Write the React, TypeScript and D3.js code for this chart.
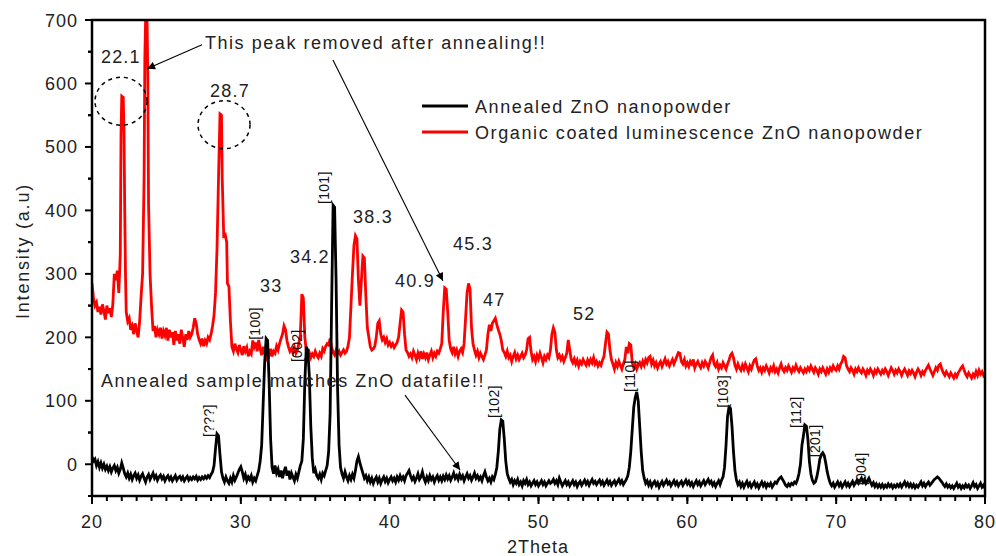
import React from "react";
import * as d3 from "d3";

// ---------- DATA ----------
const xTicks = [20, 30, 40, 50, 60, 70, 80];
const yTicks = [0, 100, 200, 300, 400, 500, 600, 700];

const seriesNames = ["Annealed ZnO nanopowder", "Organic coated luminescence ZnO nanopowder"];
const seriesColors = ["#000000", "#ff0000"];

// Organic coated luminescence ZnO nanopowder: [2Theta, intensity]
const organicCoated: [number, number][] = [
  [20.0,285],[20.1,262],[20.2,250],[20.3,255],[20.4,240],[20.5,248],[20.6,236],[20.7,252],[20.8,242],[20.9,228],
  [21.0,250],[21.1,238],[21.2,246],[21.3,232],[21.4,252],[21.5,300],[21.6,290],[21.7,305],[21.8,270],[21.9,330],
  [21.95,520],[22.0,580],[22.1,578],[22.15,525],[22.2,400],[22.25,300],[22.3,240],[22.4,225],[22.5,230],[22.6,212],
  [22.7,218],[22.8,205],[22.9,222],[23.0,210],[23.1,200],[23.2,225],[23.3,265],[23.4,300],[23.5,450],[23.55,640],
  [23.6,700],[23.7,700],[23.75,610],[23.8,410],[23.9,300],[24.0,250],[24.1,210],[24.2,218],[24.3,200],[24.4,212],
  [24.5,205],[24.6,215],[24.7,198],[24.8,210],[24.9,203],[25.0,215],[25.1,195],[25.2,212],[25.3,200],[25.4,208],
  [25.5,188],[25.6,210],[25.7,195],[25.8,205],[25.9,190],[26.0,212],[26.1,198],[26.2,185],[26.3,205],[26.4,196],
  [26.5,210],[26.6,200],[26.7,205],[26.8,215],[26.9,230],[27.0,222],[27.1,205],[27.2,196],[27.3,190],[27.4,198],
  [27.5,186],[27.6,195],[27.7,190],[27.8,200],[27.9,196],[28.0,205],[28.1,218],[28.2,235],[28.3,270],[28.4,340],
  [28.5,450],[28.6,552],[28.7,550],[28.75,450],[28.85,360],[28.95,362],[29.05,350],[29.1,285],[29.2,280],[29.3,225],
  [29.4,185],[29.5,178],[29.6,190],[29.7,182],[29.8,176],[29.9,188],[30.0,180],[30.1,172],[30.2,186],[30.3,178],
  [30.4,184],[30.5,170],[30.6,178],[30.7,174],[30.8,195],[30.9,185],[31.0,192],[31.1,178],[31.2,196],[31.3,182],
  [31.4,172],[31.5,185],[31.6,175],[31.7,168],[31.8,178],[31.9,172],[32.0,182],[32.1,170],[32.2,178],[32.3,175],
  [32.4,186],[32.5,180],[32.6,190],[32.7,198],[32.8,205],[32.9,218],[33.0,212],[33.1,195],[33.2,185],[33.3,178],
  [33.4,182],[33.5,176],[33.6,184],[33.7,175],[33.8,180],[33.9,190],[34.0,205],[34.1,268],[34.2,262],[34.3,200],
  [34.4,178],[34.5,170],[34.6,176],[34.7,168],[34.8,174],[34.9,170],[35.0,178],[35.1,172],[35.2,168],[35.3,175],
  [35.4,170],[35.5,182],[35.6,178],[35.7,186],[35.8,190],[35.9,188],[36.0,198],[36.1,185],[36.2,176],[36.3,172],
  [36.4,180],[36.5,174],[36.6,178],[36.7,172],[36.8,176],[36.9,180],[37.0,175],[37.1,178],[37.2,186],[37.3,200],
  [37.4,250],[37.5,300],[37.6,345],[37.7,360],[37.8,355],[37.9,290],[38.0,250],[38.1,290],[38.2,328],[38.3,325],
  [38.4,265],[38.5,215],[38.6,200],[38.7,185],[38.8,180],[38.9,182],[39.0,186],[39.1,200],[39.2,222],[39.3,226],
  [39.4,205],[39.5,196],[39.6,200],[39.7,192],[39.8,198],[39.9,188],[40.0,192],[40.1,186],[40.2,190],[40.3,184],
  [40.4,188],[40.5,192],[40.6,200],[40.7,222],[40.8,243],[40.9,240],[41.0,205],[41.1,180],[41.2,176],[41.3,170],
  [41.4,174],[41.5,168],[41.6,178],[41.7,172],[41.8,165],[41.9,175],[42.0,168],[42.1,178],[42.2,166],[42.3,174],
  [42.4,168],[42.5,176],[42.6,165],[42.7,172],[42.8,178],[42.9,168],[43.0,175],[43.1,170],[43.2,178],[43.3,175],
  [43.4,182],[43.5,190],[43.6,240],[43.7,278],[43.8,276],[43.9,240],[44.0,195],[44.1,182],[44.2,176],[44.3,185],
  [44.4,174],[44.5,180],[44.6,170],[44.7,178],[44.8,182],[44.9,176],[45.0,190],[45.1,230],[45.2,270],[45.3,285],
  [45.4,276],[45.5,215],[45.6,190],[45.7,180],[45.8,172],[45.9,178],[46.0,168],[46.1,175],[46.2,170],[46.3,165],
  [46.4,172],[46.5,180],[46.6,205],[46.7,220],[46.8,210],[46.9,222],[47.0,226],[47.1,230],[47.2,220],[47.3,212],
  [47.4,205],[47.5,195],[47.6,180],[47.7,176],[47.8,170],[47.9,178],[48.0,168],[48.1,172],[48.2,162],[48.3,170],
  [48.4,176],[48.5,166],[48.6,172],[48.7,165],[48.8,170],[48.9,175],[49.0,168],[49.1,172],[49.2,180],[49.3,198],
  [49.4,200],[49.5,178],[49.6,165],[49.7,170],[49.8,162],[49.9,172],[50.0,166],[50.1,175],[50.2,168],[50.3,160],
  [50.4,170],[50.5,165],[50.6,172],[50.7,168],[50.8,180],[50.9,205],[51.0,215],[51.1,208],[51.2,180],[51.3,168],
  [51.4,172],[51.5,165],[51.6,170],[51.7,162],[51.8,168],[51.9,175],[52.0,196],[52.1,180],[52.2,165],[52.3,160],
  [52.4,166],[52.5,158],[52.6,164],[52.7,155],[52.8,162],[52.9,158],[53.0,165],[53.1,160],[53.2,156],[53.3,164],
  [53.4,158],[53.5,165],[53.6,160],[53.7,168],[53.8,158],[53.9,162],[54.0,155],[54.1,160],[54.2,156],[54.3,164],
  [54.4,170],[54.5,190],[54.6,208],[54.7,205],[54.8,180],[54.9,165],[55.0,158],[55.1,150],[55.2,160],[55.3,154],
  [55.4,162],[55.5,156],[55.6,150],[55.7,158],[55.8,165],[55.9,185],[56.0,175],[56.1,190],[56.2,188],[56.3,160],
  [56.4,152],[56.5,158],[56.6,150],[56.7,156],[56.8,160],[56.9,154],[57.0,162],[57.1,156],[57.2,165],[57.3,160],
  [57.4,168],[57.5,170],[57.6,158],[57.7,164],[57.8,155],[57.9,160],[58.0,152],[58.1,158],[58.2,162],[58.3,154],
  [58.4,160],[58.5,166],[58.6,158],[58.7,162],[58.8,155],[58.9,160],[59.0,165],[59.1,158],[59.2,164],[59.3,170],
  [59.4,176],[59.5,175],[59.6,162],[59.7,158],[59.8,165],[59.9,155],[60.0,160],[60.1,154],[60.2,162],[60.3,158],
  [60.4,165],[60.5,152],[60.6,158],[60.7,162],[60.8,156],[60.9,152],[61.0,160],[61.1,155],[61.2,162],[61.3,158],
  [61.4,152],[61.5,160],[61.6,168],[61.7,172],[61.8,158],[61.9,154],[62.0,160],[62.1,150],[62.2,156],[62.3,152],
  [62.4,160],[62.5,155],[62.6,150],[62.7,158],[62.8,164],[62.9,172],[63.0,175],[63.1,168],[63.2,156],[63.3,150],
  [63.4,158],[63.5,152],[63.6,148],[63.7,156],[63.8,150],[63.9,158],[64.0,152],[64.1,146],[64.2,155],[64.3,150],
  [64.4,158],[64.5,164],[64.6,166],[64.7,155],[64.8,148],[64.9,152],[65.0,145],[65.1,152],[65.2,148],[65.3,155],
  [65.4,150],[65.5,144],[65.6,152],[65.7,148],[65.8,155],[65.9,146],[66.0,150],[66.1,144],[66.2,152],[66.3,158],
  [66.4,150],[66.5,146],[66.6,152],[66.7,148],[66.8,155],[66.9,150],[67.0,145],[67.1,152],[67.2,148],[67.3,156],
  [67.4,150],[67.5,146],[67.6,152],[67.7,148],[67.8,144],[67.9,150],[68.0,146],[68.1,152],[68.2,148],[68.3,155],
  [68.4,150],[68.5,145],[68.6,152],[68.7,148],[68.8,142],[68.9,150],[69.0,146],[69.1,152],[69.2,147],[69.3,142],
  [69.4,150],[69.5,145],[69.6,152],[69.7,148],[69.8,155],[69.9,150],[70.0,148],[70.1,155],[70.2,150],[70.3,158],
  [70.4,162],[70.5,170],[70.6,168],[70.7,155],[70.8,150],[70.9,146],[71.0,152],[71.1,148],[71.2,142],[71.3,150],
  [71.4,146],[71.5,152],[71.6,147],[71.7,144],[71.8,150],[71.9,146],[72.0,140],[72.1,148],[72.2,144],[72.3,150],
  [72.4,146],[72.5,140],[72.6,148],[72.7,144],[72.8,150],[72.9,146],[73.0,142],[73.1,148],[73.2,144],[73.3,150],
  [73.4,146],[73.5,140],[73.6,146],[73.7,152],[73.8,148],[73.9,142],[74.0,148],[74.1,144],[74.2,150],[74.3,146],
  [74.4,140],[74.5,146],[74.6,150],[74.7,145],[74.8,140],[74.9,147],[75.0,143],[75.1,148],[75.2,144],[75.3,138],
  [75.4,145],[75.5,150],[75.6,146],[75.7,140],[75.8,146],[75.9,142],[76.0,148],[76.1,152],[76.2,156],[76.3,150],
  [76.4,145],[76.5,140],[76.6,146],[76.7,152],[76.8,148],[76.9,156],[77.0,158],[77.1,150],[77.2,144],[77.3,140],
  [77.4,146],[77.5,142],[77.6,138],[77.7,144],[77.8,140],[77.9,136],[78.0,142],[78.1,138],[78.2,144],[78.3,148],
  [78.4,152],[78.5,155],[78.6,148],[78.7,142],[78.8,138],[78.9,144],[79.0,140],[79.1,136],[79.2,142],[79.3,138],
  [79.4,146],[79.5,140],[79.6,148],[79.7,142],[79.8,146],[79.9,140],[80.0,144]
];

// Annealed ZnO nanopowder: [2Theta, intensity]
const annealed: [number, number][] = [
  [20.0,12],[20.1,5],[20.2,8],[20.3,-2],[20.4,4],[20.5,-5],[20.6,2],[20.7,-6],[20.8,0],[20.9,-8],
  [21.0,-3],[21.1,-10],[21.2,-4],[21.3,-12],[21.4,-6],[21.5,-2],[21.6,-10],[21.7,-5],[21.8,-14],[21.9,-8],
  [22.0,2],[22.1,-6],[22.2,-15],[22.3,-20],[22.4,-14],[22.5,-22],[22.6,-16],[22.7,-24],[22.8,-18],[22.9,-14],
  [23.0,-22],[23.1,-17],[23.2,-25],[23.3,-19],[23.4,-15],[23.5,-22],[23.6,-28],[23.7,-20],[23.8,-16],[23.9,-24],
  [24.0,-19],[24.1,-14],[24.2,-22],[24.3,-18],[24.4,-25],[24.5,-20],[24.6,-17],[24.7,-23],[24.8,-19],[24.9,-26],
  [25.0,-21],[25.1,-18],[25.2,-24],[25.3,-20],[25.4,-26],[25.5,-22],[25.6,-18],[25.7,-25],[25.8,-21],[25.9,-19],
  [26.0,-24],[26.1,-20],[26.2,-26],[26.3,-22],[26.4,-19],[26.5,-25],[26.6,-21],[26.7,-24],[26.8,-20],[26.9,-23],
  [27.0,-19],[27.1,-25],[27.2,-21],[27.3,-24],[27.4,-20],[27.5,-23],[27.6,-19],[27.7,-22],[27.8,-18],[27.9,-21],
  [28.0,-16],[28.1,-12],[28.2,-2],[28.3,25],[28.4,48],[28.5,45],[28.6,15],[28.7,-12],[28.8,-22],[28.9,-28],
  [29.0,-20],[29.1,-26],[29.2,-30],[29.3,-22],[29.4,-28],[29.5,-18],[29.6,-25],[29.7,-20],[29.8,-14],[29.9,-8],
  [30.0,-4],[30.1,-12],[30.2,-22],[30.3,-16],[30.4,-26],[30.5,-20],[30.6,-24],[30.7,-18],[30.8,-28],[30.9,-22],
  [31.0,-26],[31.1,-18],[31.2,-10],[31.3,5],[31.4,30],[31.5,95],[31.6,160],[31.7,198],[31.8,195],[31.9,130],
  [32.0,40],[32.1,-5],[32.2,-15],[32.3,-2],[32.4,-14],[32.5,-8],[32.6,-20],[32.7,-10],[32.8,-22],[32.9,-12],
  [33.0,-4],[33.1,-18],[33.2,-10],[33.3,-24],[33.4,-14],[33.5,-20],[33.6,-26],[33.7,-16],[33.8,-22],[33.9,-12],
  [34.0,-2],[34.1,5],[34.2,40],[34.3,130],[34.4,185],[34.5,180],[34.6,140],[34.7,60],[34.8,10],[34.9,-14],
  [35.0,-8],[35.1,-18],[35.2,-22],[35.3,-16],[35.4,-24],[35.5,-14],[35.6,-18],[35.7,-10],[35.8,-2],[35.9,20],
  [36.0,80],[36.1,250],[36.2,408],[36.3,405],[36.4,290],[36.5,120],[36.6,30],[36.7,-5],[36.8,-15],[36.9,-22],
  [37.0,-12],[37.1,-20],[37.2,-26],[37.3,-18],[37.4,-24],[37.5,-16],[37.6,-22],[37.7,-10],[37.8,5],[37.9,12],
  [38.0,2],[38.1,-6],[38.2,-14],[38.3,-22],[38.4,-18],[38.5,-26],[38.6,-20],[38.7,-28],[38.8,-22],[38.9,-30],
  [39.0,-24],[39.1,-20],[39.2,-28],[39.3,-22],[39.4,-30],[39.5,-24],[39.6,-20],[39.7,-27],[39.8,-22],[39.9,-29],
  [40.0,-24],[40.1,-20],[40.2,-26],[40.3,-22],[40.4,-28],[40.5,-20],[40.6,-25],[40.7,-18],[40.8,-24],[40.9,-20],
  [41.0,-26],[41.1,-18],[41.2,-14],[41.3,-10],[41.4,-18],[41.5,-24],[41.6,-20],[41.7,-27],[41.8,-22],[41.9,-15],
  [42.0,-24],[42.1,-20],[42.2,-12],[42.3,-22],[42.4,-28],[42.5,-20],[42.6,-26],[42.7,-18],[42.8,-24],[42.9,-20],
  [43.0,-28],[43.1,-22],[43.2,-18],[43.3,-25],[43.4,-20],[43.5,-26],[43.6,-19],[43.7,-24],[43.8,-17],[43.9,-23],
  [44.0,-18],[44.1,-25],[44.2,-20],[44.3,-14],[44.4,-22],[44.5,-18],[44.6,-24],[44.7,-16],[44.8,-22],[44.9,-18],
  [45.0,-26],[45.1,-20],[45.2,-15],[45.3,-22],[45.4,-18],[45.5,-25],[45.6,-20],[45.7,-14],[45.8,-22],[45.9,-18],
  [46.0,-24],[46.1,-20],[46.2,-26],[46.3,-18],[46.4,-12],[46.5,-20],[46.6,-26],[46.7,-22],[46.8,-28],[46.9,-20],
  [47.0,-24],[47.1,-16],[47.2,-5],[47.3,20],[47.4,55],[47.5,70],[47.6,68],[47.7,40],[47.8,5],[47.9,-15],
  [48.0,-22],[48.1,-28],[48.2,-24],[48.3,-32],[48.4,-26],[48.5,-30],[48.6,-24],[48.7,-32],[48.8,-28],[48.9,-34],
  [49.0,-26],[49.1,-30],[49.2,-24],[49.3,-32],[49.4,-28],[49.5,-34],[49.6,-30],[49.7,-26],[49.8,-32],[49.9,-28],
  [50.0,-34],[50.1,-30],[50.2,-26],[50.3,-32],[50.4,-28],[50.5,-34],[50.6,-30],[50.7,-26],[50.8,-30],[50.9,-28],
  [51.0,-24],[51.1,-30],[51.2,-26],[51.3,-32],[51.4,-22],[51.5,-28],[51.6,-34],[51.7,-30],[51.8,-26],[51.9,-32],
  [52.0,-28],[52.1,-34],[52.2,-30],[52.3,-26],[52.4,-32],[52.5,-28],[52.6,-35],[52.7,-30],[52.8,-27],[52.9,-33],
  [53.0,-29],[53.1,-25],[53.2,-31],[53.3,-27],[53.4,-33],[53.5,-28],[53.6,-24],[53.7,-30],[53.8,-27],[53.9,-32],
  [54.0,-28],[54.1,-25],[54.2,-31],[54.3,-27],[54.4,-33],[54.5,-29],[54.6,-25],[54.7,-31],[54.8,-27],[54.9,-33],
  [55.0,-29],[55.1,-26],[55.2,-32],[55.3,-28],[55.4,-24],[55.5,-30],[55.6,-26],[55.7,-32],[55.8,-28],[55.9,-24],
  [56.0,-18],[56.1,-5],[56.2,20],[56.3,55],[56.4,90],[56.5,105],[56.6,114],[56.7,100],[56.8,60],[56.9,20],
  [57.0,-10],[57.1,-22],[57.2,-30],[57.3,-26],[57.4,-33],[57.5,-28],[57.6,-35],[57.7,-30],[57.8,-27],[57.9,-33],
  [58.0,-29],[58.1,-36],[58.2,-31],[58.3,-27],[58.4,-33],[58.5,-29],[58.6,-25],[58.7,-31],[58.8,-28],[58.9,-34],
  [59.0,-30],[59.1,-26],[59.2,-32],[59.3,-28],[59.4,-34],[59.5,-30],[59.6,-27],[59.7,-33],[59.8,-29],[59.9,-25],
  [60.0,-31],[60.1,-27],[60.2,-33],[60.3,-29],[60.4,-35],[60.5,-30],[60.6,-26],[60.7,-32],[60.8,-28],[60.9,-34],
  [61.0,-30],[61.1,-26],[61.2,-32],[61.3,-28],[61.4,-24],[61.5,-30],[61.6,-27],[61.7,-33],[61.8,-29],[61.9,-35],
  [62.0,-30],[62.1,-26],[62.2,-32],[62.3,-25],[62.4,-20],[62.5,-5],[62.6,30],[62.7,75],[62.8,90],[62.9,88],
  [63.0,60],[63.1,20],[63.2,-10],[63.3,-25],[63.4,-32],[63.5,-28],[63.6,-35],[63.7,-30],[63.8,-36],[63.9,-31],
  [64.0,-27],[64.1,-34],[64.2,-30],[64.3,-36],[64.4,-32],[64.5,-28],[64.6,-35],[64.7,-31],[64.8,-37],[64.9,-32],
  [65.0,-28],[65.1,-34],[65.2,-30],[65.3,-36],[65.4,-31],[65.5,-34],[65.6,-30],[65.7,-36],[65.8,-32],[65.9,-28],
  [66.0,-30],[66.1,-25],[66.2,-22],[66.3,-20],[66.4,-24],[66.5,-28],[66.6,-33],[66.7,-35],[66.8,-31],[66.9,-34],
  [67.0,-30],[67.1,-32],[67.2,-28],[67.3,-30],[67.4,-24],[67.5,-15],[67.6,0],[67.7,30],[67.8,45],[67.9,62],
  [68.0,60],[68.1,40],[68.2,5],[68.3,-15],[68.4,-25],[68.5,-30],[68.6,-28],[68.7,-20],[68.8,-8],[68.9,8],
  [69.0,15],[69.1,18],[69.2,14],[69.3,2],[69.4,-12],[69.5,-22],[69.6,-30],[69.7,-34],[69.8,-30],[69.9,-36],
  [70.0,-32],[70.1,-28],[70.2,-34],[70.3,-30],[70.4,-36],[70.5,-32],[70.6,-28],[70.7,-34],[70.8,-30],[70.9,-35],
  [71.0,-31],[71.1,-27],[71.2,-33],[71.3,-29],[71.4,-25],[71.5,-30],[71.6,-26],[71.7,-22],[71.8,-28],[71.9,-24],
  [72.0,-30],[72.1,-26],[72.2,-22],[72.3,-28],[72.4,-33],[72.5,-29],[72.6,-35],[72.7,-31],[72.8,-36],[72.9,-32],
  [73.0,-36],[73.1,-32],[73.2,-37],[73.3,-33],[73.4,-36],[73.5,-31],[73.6,-35],[73.7,-32],[73.8,-37],[73.9,-33],
  [74.0,-36],[74.1,-32],[74.2,-35],[74.3,-31],[74.4,-36],[74.5,-32],[74.6,-28],[74.7,-34],[74.8,-30],[74.9,-35],
  [75.0,-31],[75.1,-36],[75.2,-32],[75.3,-37],[75.4,-33],[75.5,-36],[75.6,-32],[75.7,-28],[75.8,-34],[75.9,-30],
  [76.0,-35],[76.1,-31],[76.2,-28],[76.3,-33],[76.4,-30],[76.5,-27],[76.6,-24],[76.7,-22],[76.8,-20],[76.9,-22],
  [77.0,-25],[77.1,-28],[77.2,-32],[77.3,-35],[77.4,-31],[77.5,-36],[77.6,-33],[77.7,-37],[77.8,-34],[77.9,-38],
  [78.0,-34],[78.1,-30],[78.2,-36],[78.3,-33],[78.4,-38],[78.5,-34],[78.6,-37],[78.7,-32],[78.8,-36],[78.9,-33],
  [79.0,-38],[79.1,-34],[79.2,-29],[79.3,-35],[79.4,-32],[79.5,-38],[79.6,-34],[79.7,-30],[79.8,-36],[79.9,-33],
  [80.0,-38]
];

// Peak position labels on the organic curve: [text, 2Theta, intensity]
const peakLabels: [string, number, number][] = [
  ["22.1", 20.6, 632], ["28.7", 27.93, 579], ["33", 31.29, 271], ["34.2", 33.3, 317],
  ["38.3", 37.54, 380], ["40.9", 40.36, 279], ["45.3", 44.26, 338], ["47", 46.27, 249], ["52", 52.32, 227]
];

// Miller index labels (rotated): [text, 2Theta, intensity]
const hklLabels: [string, number, number][] = [
  ["[???]", 28.22, 43], ["[100]", 31.29, 196], ["[002]", 34.11, 161], ["[101]", 35.92, 410],
  ["[102]", 47.35, 73], ["[110]", 56.48, 114], ["[103]", 62.73, 89], ["[112]", 67.64, 57],
  ["[201]", 68.92, 11], ["[004]", 72.01, -33]
];

// Dashed circles around peaks: [2Theta, intensity]
const circledPeaks: [number, number][] = [[21.95, 572], [28.87, 535]];

// Text notes: [text, 2Theta, intensity]
const notes: [string, number, number][] = [
  ["This peak removed after annealing!!", 27.59, 654],
  ["Annealed sample matches ZnO datafile!!", 20.6, 122]
];

// Arrows: [from2Theta, fromI, to2Theta, toI]
const arrows: [number, number, number, number][] = [
  [27.39, 661, 23.7, 623],
  [36.19, 637, 43.58, 289],
  [41.03, 109, 44.73, -9]
];

// ---------- CHART ----------
const W = 996, H = 556;
const M = { left: 92, right: 985, top: 20, bottom: 496 };
const FONT = "'Liberation Sans', Arial, Helvetica, sans-serif";

export default function App() {
  const x = d3.scaleLinear().domain([20, 80]).range([M.left, M.right]);
  const y = d3.scaleLinear().domain([-50, 700]).range([M.bottom, M.top]);
  const line = d3.line<[number, number]>().x(d => x(d[0])).y(d => y(d[1]));

  const xMinor = d3.range(20, 80.001, 1);
  const yMinor = d3.range(-50, 700, 100).concat(d3.range(50, 700, 100));

  return (
    <svg width={W} height={H} style={{ position: "fixed", left: 0, top: 0, background: "#fff" }}
      fontFamily={FONT}>
      <defs>
        <clipPath id="plot">
          <rect x={M.left} y={M.top - 1} width={M.right - M.left} height={M.bottom - M.top + 1} />
        </clipPath>
        <marker id="arr" viewBox="0 0 10 10" refX="10" refY="5" markerWidth="11" markerHeight="8"
          markerUnits="userSpaceOnUse" orient="auto">
          <path d="M0,0 L10,5 L0,10 Z" fill="#000" />
        </marker>
      </defs>

      <g clipPath="url(#plot)">
        <path d={line(organicCoated) || ""} fill="none" stroke={seriesColors[1]} strokeWidth={2.8} strokeLinejoin="miter" />
        <path d={line(annealed) || ""} fill="none" stroke={seriesColors[0]} strokeWidth={2.8} strokeLinejoin="miter" />
      </g>

      {/* frame */}
      <rect x={M.left} y={M.top} width={M.right - M.left} height={M.bottom - M.top} fill="none" stroke="#000" strokeWidth={2.5} />

      {/* x ticks */}
      {xMinor.map(t => (
        <line key={"xm" + t} x1={x(t)} x2={x(t)} y1={M.bottom} y2={M.bottom + 5} stroke="#000" strokeWidth={2} />
      ))}
      {xTicks.map(t => (
        <g key={"xt" + t}>
          <line x1={x(t)} x2={x(t)} y1={M.bottom} y2={M.bottom + 8} stroke="#000" strokeWidth={2} />
          <text x={x(t)} y={528} textAnchor="middle" fontSize={18} style={{ letterSpacing: "1px" }} fill="#222">{t}</text>
        </g>
      ))}
      {/* y ticks */}
      {yMinor.map(v => (
        <line key={"ym" + v} x1={M.left - 4} x2={M.left} y1={y(v)} y2={y(v)} stroke="#000" strokeWidth={2} />
      ))}
      {yTicks.map(v => (
        <g key={"yt" + v}>
          <line x1={M.left - 7} x2={M.left} y1={y(v)} y2={y(v)} stroke="#000" strokeWidth={2} />
          <text x={78} y={y(v) + 6.5} textAnchor="end" fontSize={18} style={{ letterSpacing: "1px" }} fill="#222">{v}</text>
        </g>
      ))}

      {/* axis titles */}
      <text x={538} y={553} textAnchor="middle" fontSize={18} style={{ letterSpacing: "1px" }} fill="#222">2Theta</text>
      <text transform={`translate(29,251) rotate(-90)`} textAnchor="middle" fontSize={18}
        style={{ letterSpacing: "1.8px" }} fill="#222">Intensity (a.u)</text>

      {/* legend */}
      {seriesNames.map((n, i) => (
        <g key={n}>
          <line x1={422} x2={468} y1={106 + i * 26} y2={106 + i * 26} stroke={seriesColors[i]} strokeWidth={3} />
          <text x={475} y={113 + i * 26} fontSize={18} style={{ letterSpacing: "1.6px" }} fill="#222">{n}</text>
        </g>
      ))}

      {/* peak labels */}
      {peakLabels.map(([s, t, v]) => (
        <text key={s} x={x(t)} y={y(v)} fontSize={18} style={{ letterSpacing: "1.2px" }} fill="#222">{s}</text>
      ))}

      {/* hkl labels */}
      {hklLabels.map(([s, t, v]) => (
        <text key={s} transform={`translate(${x(t)},${y(v)}) rotate(-90)`} fontSize={14}
          style={{ letterSpacing: "0.3px" }} fill="#111">{s}</text>
      ))}

      {/* circles */}
      {circledPeaks.map(([t, v], i) => (
        <ellipse key={i} cx={x(t)} cy={y(v)} rx={26} ry={24} fill="none" stroke="#000" strokeWidth={1.5} strokeDasharray="4 4" />
      ))}

      {/* notes */}
      {notes.map(([s, t, v]) => (
        <text key={s} x={x(t)} y={y(v)} fontSize={18} style={{ letterSpacing: "1.55px" }} fill="#222">{s}</text>
      ))}

      {/* arrows */}
      {arrows.map(([t0, v0, t1, v1], i) => (
        <line key={i} x1={x(t0)} y1={y(v0)} x2={x(t1)} y2={y(v1)} stroke="#000" strokeWidth={1.1} markerEnd="url(#arr)" />
      ))}
    </svg>
  );
}
